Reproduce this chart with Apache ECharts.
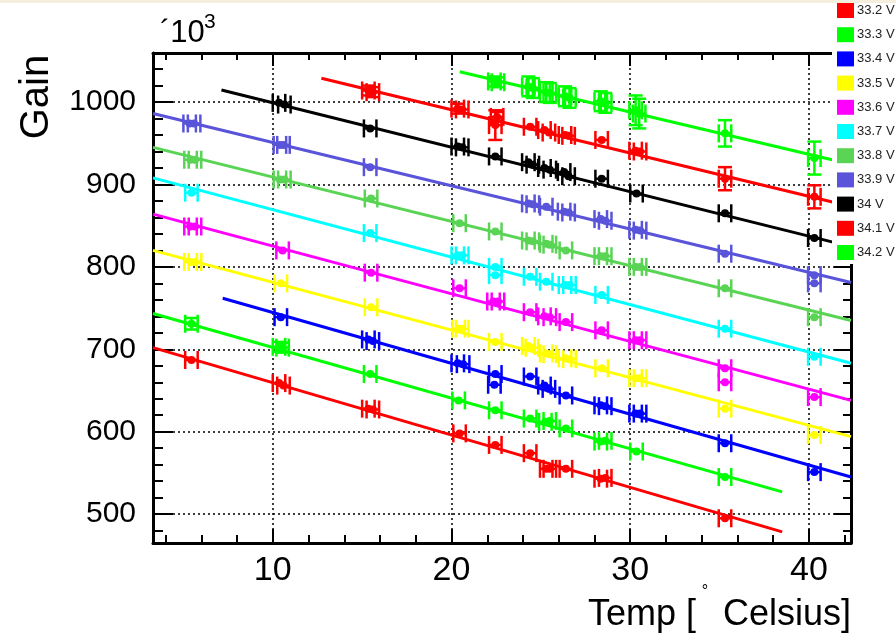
<!DOCTYPE html>
<html><head><meta charset="utf-8">
<script src="https://cdn.jsdelivr.net/npm/echarts@6/dist/echarts.min.js"></script>
<style>html,body{margin:0;padding:0;background:#fff}#c{width:896px;height:643px}</style>
</head><body><div id="c"></div>
<script>
// ---- data ----
const seriesNames = ['33.2 V','33.3 V','33.4 V','33.5 V','33.6 V','33.7 V','33.8 V','33.9 V','34 V','34.1 V','34.2 V'];
const seriesColors = ['#ff0000','#00ff00','#0000ff','#ffff00','#ff00ff','#00ffff','#59d454','#5954d9','#000000','#ff0000','#00ff00'];

// [temperature, gain/1000, vertical error]
const s332 = [[5.45,687],[10.35,659],[10.6,656],[15.35,628],[15.6,627],[20.45,598],[22.45,584],[24.4,574],[25.3,555,6],[25.5,555,6],[26.4,555],[28.35,543],[28.6,544],[35.3,495]];
const s333 = [[5.45,731,7],[10.35,703,6],[10.55,702,6],[15.45,670],[20.4,638],[22.45,626],[24.4,616],[25.25,612],[25.5,613],[26.4,604],[28.35,588],[28.6,589],[30.35,576],[35.3,545]];
const s334 = [[10.45,739],[15.35,712],[15.6,710],[20.35,683],[20.65,682],[22.45,670,12],[22.4,657],[24.4,667,9],[25.2,656],[25.45,652],[26.4,644],[28.35,632],[28.6,631],[30.3,622],[30.55,622],[35.3,586],[40.3,551]];
const s335 = [[5.4,806],[5.65,806],[10.45,780],[15.5,751],[20.4,725],[20.6,725],[22.45,709],[24.3,704],[24.5,702],[25.3,695],[25.5,694],[26.35,689],[26.6,688],[28.4,677],[30.3,665],[30.55,665],[35.3,628,6],[40.3,596]];
const s336 = [[5.4,849],[5.65,849],[10.55,820],[15.5,793],[20.45,774],[22.35,758],[22.6,758],[24.4,745],[25.2,740],[25.5,739],[26.4,733],[28.4,723],[30.3,711],[30.55,711],[35.3,677],[35.3,660,6],[40.3,642,5]];
const s337 = [[5.45,890],[15.45,841],[20.35,814],[20.6,814],[22.45,800],[22.45,790],[24.4,788],[25.3,782],[26.35,778],[26.6,778],[28.4,766],[35.3,725],[40.3,691]];
const s338 = [[5.4,930],[5.65,930],[10.4,906],[10.65,906],[15.5,883],[20.45,853],[22.45,843],[24.3,832],[24.55,831],[25.3,828],[25.5,827],[26.4,820],[28.35,813],[28.6,813],[30.3,800],[30.55,800],[35.3,774],[40.3,739]];
const s339 = [[5.35,974],[5.6,974],[10.4,948],[10.6,948],[15.45,921],[24.3,877],[24.55,876],[25.3,873],[26.3,867],[26.55,866],[28.35,858],[28.6,856],[30.3,845],[30.55,844],[35.3,816],[40.3,790],[40.3,780]];
const s340 = [[10.35,999],[10.65,997],[15.45,968,8],[20.35,946],[20.6,945],[22.45,934,10],[24.3,927],[24.55,924],[25.2,920],[25.5,918],[26.3,915],[26.55,910],[28.4,907,17],[30.35,889],[35.3,865,8],[40.3,835,6]];
const s341 = [[15.35,1014,6],[15.6,1012,6],[20.35,992,6],[20.6,991],[22.45,972,18],[22.55,982,6],[24.4,970],[25.2,966],[25.45,963],[26.35,960],[26.55,959],[28.4,954],[30.3,941],[30.55,940],[35.3,907,14],[40.3,885,14]];
const s342 = [[22.4,1025,6],[22.6,1024,6],[24.3,1019,12],[24.55,1017,12],[25.3,1012,12],[25.5,1011,12],[26.35,1007,12],[26.6,1005,12],[28.35,1001,12],[28.6,999,12],[30.3,990,18],[30.5,986,18],[35.3,962,16],[40.3,932,20]];
const seriesPoints = [s332,s333,s334,s335,s336,s337,s338,s339,s340,s341,s342];

// fitted straight lines: [[T start, gain],[T end, gain]]
const fitLines = [
  [[3.3,702],[38.5,478.5]],
  [[3.3,743.5],[38.5,527]],
  [[7.2,762],[42.35,545]],
  [[3.3,820],[42.35,594]],
  [[3.3,864],[42.35,638]],
  [[3.3,908],[42.35,683]],
  [[3.3,945],[42.35,735]],
  [[3.3,986],[42.35,781]],
  [[7.13,1014.6],[42.35,824.6]],
  [[12.72,1028.8],[42.35,873.3]],
  [[20.46,1036.8],[42.35,924.6]]
];

const xMin = 3.3, xMax = 42.35, yMin = 465, yMax = 1059.5;
const xMajorTicks = [10,20,30,40];
const xMinorTicks = [4,6,8,12,14,16,18,22,24,26,28,32,34,36,38,42];
const yMajorTicks = [500,600,700,800,900,1000];
const yMinorTicks = [480,520,540,560,580,620,640,660,680,720,740,760,780,820,840,860,880,920,940,960,980,1020,1040];
const xErr = 0.35;

// ---- chart ----
const FONT = '"Liberation Sans", Arial, Helvetica, sans-serif';
const chart = echarts.init(document.getElementById('c'), null, {renderer:'canvas'});
const gridBox = {left:153, right:45, top:53, bottom:100};

function xAx(gridIndex, pos, ticks, len, showLine, labels){
  return {type:'value', gridIndex, position:pos, min:xMin, max:xMax,
    axisLine:{show:showLine, onZero:false, lineStyle:{color:'#000', width:3}},
    axisTick:{show:true, inside:true, length:len, customValues:ticks, lineStyle:{color:'#000', width:2}},
    axisLabel:labels ? {show:true, customValues:ticks, fontSize:34, color:'#000', fontFamily:FONT, margin:11, formatter:v => String(v)} : {show:false},
    splitLine:{show:!!labels, lineStyle:{color:'#000', width:1.5, type:[2,3]}}
  };
}
function yAx(gridIndex, pos, ticks, len, showLine, labels){
  return {type:'value', gridIndex, position:pos, min:yMin, max:yMax,
    axisLine:{show:showLine, onZero:false, lineStyle:{color:'#000', width:3}},
    axisTick:{show:true, inside:true, length:len, customValues:ticks, lineStyle:{color:'#000', width:2}},
    axisLabel:labels ? {show:true, customValues:ticks, fontSize:30, color:'#000', fontFamily:FONT, margin:17, formatter:v => String(v)} : {show:false},
    splitLine:{show:!!labels, lineStyle:{color:'#000', width:1.5, type:[2,3]}}
  };
}

function renderPoint(params, api){
  const t = api.value(0), g = api.value(1), ye = api.value(2) || 0;
  const c = api.coord([t, g]);
  const l = api.coord([t - xErr, g]);
  const r = api.coord([t + xErr, g]);
  const color = api.visual('color');
  const st = {stroke:color, lineWidth:2.5};
  const ch = [
    {type:'line', shape:{x1:l[0], y1:c[1], x2:r[0], y2:c[1]}, style:st},
    {type:'line', shape:{x1:l[0], y1:c[1]-9, x2:l[0], y2:c[1]+9}, style:st},
    {type:'line', shape:{x1:r[0], y1:c[1]-9, x2:r[0], y2:c[1]+9}, style:st},
    {type:'circle', shape:{cx:c[0], cy:c[1], r:4}, style:{fill:color}}
  ];
  if (ye > 0){
    const top = api.coord([t, g + ye]), bot = api.coord([t, g - ye]);
    ch.push({type:'line', shape:{x1:c[0], y1:top[1], x2:c[0], y2:bot[1]}, style:st});
    ch.push({type:'line', shape:{x1:c[0]-7, y1:top[1], x2:c[0]+7, y2:top[1]}, style:st});
    ch.push({type:'line', shape:{x1:c[0]-7, y1:bot[1], x2:c[0]+7, y2:bot[1]}, style:st});
  }
  return {type:'group', children:ch};
}

const series = [];
seriesNames.forEach((name, i) => {
  series.push({type:'line', name, xAxisIndex:0, yAxisIndex:0, data:fitLines[i], showSymbol:false, symbol:'none',
    lineStyle:{color:seriesColors[i], width:3}, itemStyle:{color:seriesColors[i]}, clip:true, silent:true, animation:false, z:2});
  series.push({type:'custom', name, xAxisIndex:0, yAxisIndex:0, data:seriesPoints[i], renderItem:renderPoint,
    itemStyle:{color:seriesColors[i]}, encode:{x:0, y:1}, animation:false, silent:true, z:3});
});

chart.setOption({
  animation:false,
  backgroundColor:'#fff',
  grid:[
    Object.assign({}, gridBox), Object.assign({}, gridBox), Object.assign({}, gridBox), Object.assign({}, gridBox)
  ],
  xAxis:[
    xAx(0,'bottom',xMajorTicks,14,true,true),
    xAx(1,'bottom',xMinorTicks,8,false,false),
    xAx(2,'top',xMajorTicks,13,true,false),
    xAx(3,'top',xMinorTicks,7,false,false)
  ],
  yAxis:[
    yAx(0,'left',yMajorTicks,20,true,true),
    yAx(1,'left',yMinorTicks,10,false,false),
    yAx(2,'right',yMajorTicks,17,true,false),
    yAx(3,'right',yMinorTicks,8,false,false)
  ],
  legend:{
    orient:'vertical', left:832, top:0, padding:[3,6,4,5], itemGap:9.2, itemWidth:17, itemHeight:15,
    icon:'rect', backgroundColor:'#fff', data:seriesNames, selectedMode:false, z:10,
    textStyle:{fontSize:13, color:'#222', fontFamily:FONT, padding:[0,0,0,-2]}
  },
  series,
  graphic:[
    {type:'rect', left:0, top:0, shape:{width:896, height:3}, style:{fill:'#f4eedc'}, z:100},
    {type:'text', x:37, y:97, rotation:Math.PI/2, style:{text:'Gain', font:'40px ' + FONT, fill:'#000', align:'center', verticalAlign:'middle'}, z:100},
    {type:'text', x:160, y:49, style:{text:'´10', font:'31px ' + FONT, fill:'#000', align:'left', verticalAlign:'bottom'}, z:100},
    {type:'text', x:204, y:33, style:{text:'3', font:'21px ' + FONT, fill:'#000', align:'left', verticalAlign:'bottom'}, z:100},
    {type:'text', x:588, y:633, style:{text:'Temp [', font:'36px ' + FONT, fill:'#000', align:'left', verticalAlign:'bottom'}, z:100},
    {type:'text', x:705, y:592, style:{text:'°', font:'16px ' + FONT, fill:'#000', align:'center', verticalAlign:'middle'}, z:100},
    {type:'text', x:851, y:633, style:{text:'Celsius]', font:'36px ' + FONT, fill:'#000', align:'right', verticalAlign:'bottom'}, z:100}
  ]
});
</script></body></html>
